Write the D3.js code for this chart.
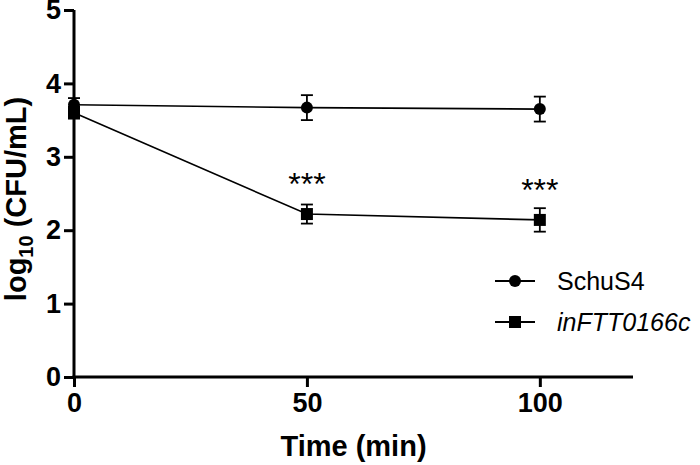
<!DOCTYPE html>
<html><head><meta charset="utf-8">
<script src="https://cdn.jsdelivr.net/npm/d3@7"></script>
<style>body{margin:0;background:#fff;} svg{display:block;font-family:"Liberation Sans",Arial,sans-serif;}</style>
</head><body>
<svg id="c" width="700" height="465"></svg>
<script>
const times = [0, 50, 100];
const schuMean = [3.71, 3.67, 3.65];
const schuErr = [0.09, 0.17, 0.17];
const inMean = [3.60, 2.22, 2.14];
const inErr = [0.08, 0.13, 0.16];
const sigLabels = ["", "***", "***"];
const xTicks = [0, 50, 100];
const yTicks = [0, 1, 2, 3, 4, 5];
const seriesNames = ["SchuS4", "inFTT0166c"];

const svg = d3.select("#c");
const x = d3.scaleLinear().domain([0, 120]).range([74, 633]);
const y = d3.scaleLinear().domain([0, 5]).range([377, 10]);

// axes
const yAxis = svg.append("g").attr("transform", "translate(74,0)")
  .call(d3.axisLeft(y).tickValues(yTicks).tickSize(10).tickPadding(3).tickFormat(d3.format("d")));
const xAxis = svg.append("g").attr("transform", "translate(0,377)")
  .call(d3.axisBottom(x).tickValues(xTicks).tickSize(10).tickPadding(6).tickFormat(d3.format("d")));
[yAxis, xAxis].forEach(g => {
  g.select(".domain").attr("stroke", "#000").attr("stroke-width", 3);
  g.selectAll(".tick line").attr("stroke", "#000").attr("stroke-width", 3);
  g.selectAll(".tick text").attr("fill", "#000").style("font-size", "27px").style("font-weight", "bold");
});
yAxis.select(".domain").attr("d", `M0,${y(5)}V${y(0) + 1.5}`);
xAxis.select(".domain").attr("d", `M${x(0) - 1.5},0H${x(120)}`);

const series = [
  {name: seriesNames[0], mean: schuMean, err: schuErr, shape: "circle"},
  {name: seriesNames[1], mean: inMean, err: inErr, shape: "square"}
];
const line = d3.line().x((d, i) => x(times[i])).y(d => y(d));

series.forEach(s => {
  const g = svg.append("g");
  g.append("path").attr("d", line(s.mean)).attr("fill", "none").attr("stroke", "#000").attr("stroke-width", 1.6);
  s.mean.forEach((m, i) => {
    const cx = x(times[i]);
    const y1 = y(m + s.err[i]), y2 = y(m - s.err[i]);
    g.append("line").attr("x1", cx).attr("x2", cx).attr("y1", y1).attr("y2", y2).attr("stroke", "#000").attr("stroke-width", 1.8);
    [y1, y2].forEach(yy => g.append("line").attr("x1", cx - 6).attr("x2", cx + 6).attr("y1", yy).attr("y2", yy).attr("stroke", "#000").attr("stroke-width", 1.8));
    if (s.shape === "circle") g.append("circle").attr("cx", cx).attr("cy", y(m)).attr("r", 6);
    else g.append("rect").attr("x", cx - 6).attr("y", y(m) - 6).attr("width", 12).attr("height", 12);
  });
});

// significance
sigLabels.forEach((t, i) => {
  if (!t) return;
  svg.append("text").attr("x", x(times[i])).attr("y", y(inMean[i]) - 37 + 18)
    .attr("text-anchor", "middle").style("font-size", "32px").text(t);
});

// legend
series.forEach((s, i) => {
  const ly = 281 + i * 41;
  svg.append("line").attr("x1", 495).attr("x2", 535).attr("y1", ly).attr("y2", ly).attr("stroke", "#000").attr("stroke-width", 1.8);
  if (s.shape === "circle") svg.append("circle").attr("cx", 515).attr("cy", ly).attr("r", 6);
  else svg.append("rect").attr("x", 509).attr("y", ly - 6).attr("width", 12).attr("height", 12);
  svg.append("text").attr("x", 557).attr("y", ly + 9).style("font-size", "25px")
    .style("font-style", i === 1 ? "italic" : "normal").text(s.name);
});

// axis titles
svg.append("text").attr("x", x(60)).attr("y", 456).attr("text-anchor", "middle")
  .style("font-size", "29px").style("font-weight", "bold").text("Time (min)");
const yt = svg.append("text").attr("transform", "translate(26,199) rotate(-90)").attr("text-anchor", "middle")
  .style("font-size", "29px").style("font-weight", "bold");
yt.append("tspan").text("log");
yt.append("tspan").attr("dy", 7).style("font-size", "20px").text("10");
yt.append("tspan").attr("dy", -7).text(" (CFU/mL)");
</script>
</body></html>
